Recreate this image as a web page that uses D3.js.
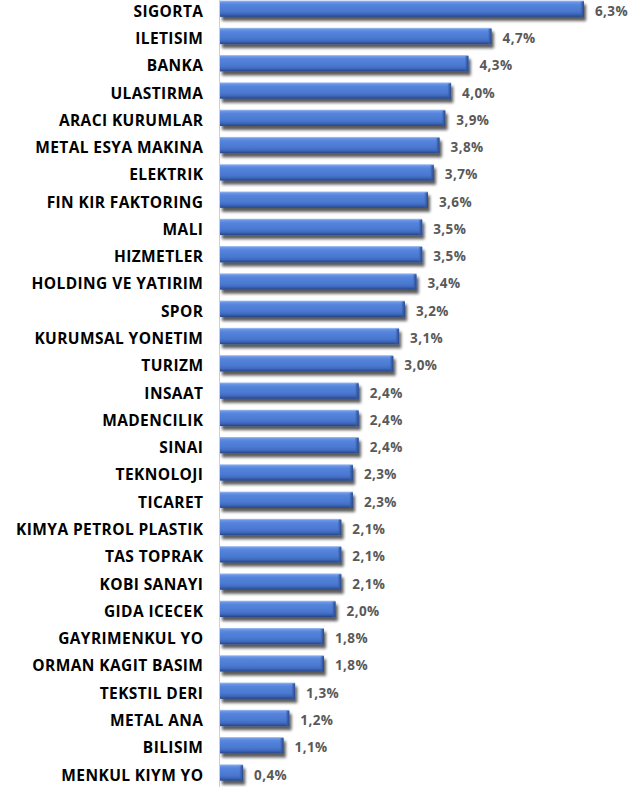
<!DOCTYPE html>
<html>
<head>
<meta charset="utf-8">
<script src="https://cdn.jsdelivr.net/npm/d3@7"></script>
<style>
html,body{margin:0;padding:0;background:#fff;}
svg{display:block;}
</style>
</head>
<body>
<script>
const categories = ["SIGORTA","ILETISIM","BANKA","ULASTIRMA","ARACI KURUMLAR","METAL ESYA MAKINA","ELEKTRIK","FIN KIR FAKTORING","MALI","HIZMETLER","HOLDING VE YATIRIM","SPOR","KURUMSAL YONETIM","TURIZM","INSAAT","MADENCILIK","SINAI","TEKNOLOJI","TICARET","KIMYA PETROL PLASTIK","TAS TOPRAK","KOBI SANAYI","GIDA ICECEK","GAYRIMENKUL YO","ORMAN KAGIT BASIM","TEKSTIL DERI","METAL ANA","BILISIM","MENKUL KIYM YO"];
const values = [6.3,4.7,4.3,4.0,3.9,3.8,3.7,3.6,3.5,3.5,3.4,3.2,3.1,3.0,2.4,2.4,2.4,2.3,2.3,2.1,2.1,2.1,2.0,1.8,1.8,1.3,1.2,1.1,0.4];
const valueLabels = ["6,3%","4,7%","4,3%","4,0%","3,9%","3,8%","3,7%","3,6%","3,5%","3,5%","3,4%","3,2%","3,1%","3,0%","2,4%","2,4%","2,4%","2,3%","2,3%","2,1%","2,1%","2,1%","2,0%","1,8%","1,8%","1,3%","1,2%","1,1%","0,4%"];

const W = 641, H = 787;
const svg = d3.select("body").append("svg").attr("width", W).attr("height", H);
const defs = svg.append("defs");

const grad = defs.append("linearGradient").attr("id","barGrad").attr("x1",0).attr("y1",0).attr("x2",0).attr("y2",1);
[["0%","#a9c4f2"],["10%","#6a96e6"],["25%","#5584dc"],["65%","#4a78d0"],["82%","#3f69be"],["100%","#254586"]]
  .forEach(([o,c]) => grad.append("stop").attr("offset",o).attr("stop-color",c));

const gradEnd = defs.append("linearGradient").attr("id","endGrad").attr("x1",0).attr("y1",0).attr("x2",1).attr("y2",0);
[["0%","#3f6cc4",0],["50%","#34599f",0.7],["100%","#2a4888",1]]
  .forEach(([o,c,a]) => gradEnd.append("stop").attr("offset",o).attr("stop-color",c).attr("stop-opacity",a));

const filt = defs.append("filter").attr("id","shadow").attr("x","-10%").attr("y","-30%").attr("width","130%").attr("height","200%");
filt.append("feGaussianBlur").attr("in","SourceAlpha").attr("stdDeviation",1.6).attr("result","b");
filt.append("feOffset").attr("in","b").attr("dx",2).attr("dy",3.5).attr("result","o");
filt.append("feComponentTransfer").attr("in","o").attr("result","s")
  .append("feFuncA").attr("type","linear").attr("slope",0.65);
const mg = filt.append("feMerge");
mg.append("feMergeNode").attr("in","s");
mg.append("feMergeNode").attr("in","SourceGraphic");

const x = d3.scaleLinear().domain([0, 6.3]).range([220, 584]);
const y = d3.scaleBand().domain(categories).range([0.5, 0.5 + 27.28*(29 - 0.4)]).paddingInner(0.4).paddingOuter(0);

// axis line
svg.append("line").attr("x1",219.5).attr("x2",219.5).attr("y1",0).attr("y2",H)
  .attr("stroke","#d0d0d0").attr("stroke-width",1);

const data = categories.map((c,i)=>({c, v:values[i], l:valueLabels[i]}));

const g = svg.append("g");
const bars = g.selectAll("g.bar").data(data).join("g").attr("class","bar").attr("filter","url(#shadow)");
bars.append("rect")
  .attr("x", x(0)).attr("y", d=>y(d.c))
  .attr("width", d=>x(d.v)-x(0)).attr("height", y.bandwidth())
  .attr("fill","url(#barGrad)");
bars.append("rect")
  .attr("x", d=>x(d.v)-4).attr("y", d=>y(d.c)+1)
  .attr("width", 4).attr("height", y.bandwidth()-1)
  .attr("fill","url(#endGrad)");

// category labels
svg.append("g").selectAll("text").data(data).join("text")
  .attr("x", 203.4).attr("y", d=>y(d.c)+y.bandwidth()/2+2)
  .attr("text-anchor","end").attr("dominant-baseline","central")
  .attr("font-family","'Open Sans', sans-serif").attr("font-weight","bold")
  .attr("font-size","15.5px").attr("fill","#000").attr("letter-spacing","0.4px")
  .text(d=>d.c);

// value labels
svg.append("g").selectAll("text").data(data).join("text")
  .attr("x", d=>x(d.v)+11).attr("y", d=>y(d.c)+y.bandwidth()/2+2)
  .attr("dominant-baseline","central")
  .attr("font-family","'Open Sans', sans-serif").attr("font-weight","bold")
  .attr("font-size","13.5px").attr("fill","#595959").attr("letter-spacing","0.4px")
  .text(d=>d.l);
</script>
</body>
</html>
